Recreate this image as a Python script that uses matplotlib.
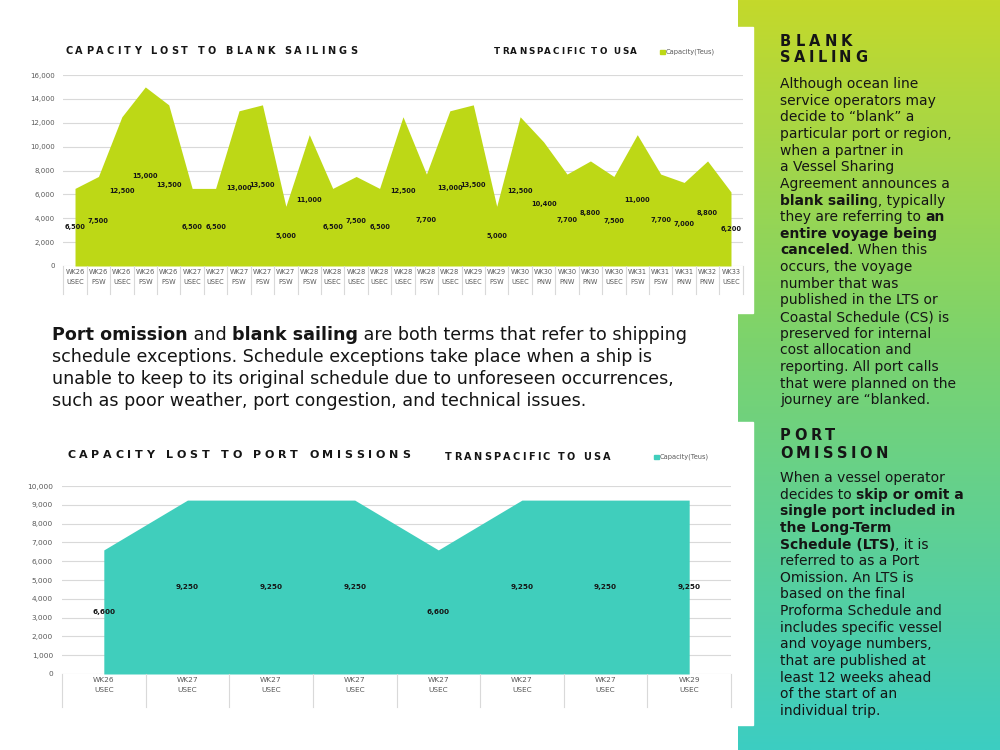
import numpy as np
import matplotlib
matplotlib.use("Agg")
import matplotlib.pyplot as plt
from matplotlib.patches import Rectangle

# ---- data: capacity lost to blank sailings (transpacific to USA)
blank_weeks = ["WK26", "WK26", "WK26", "WK26", "WK26", "WK27", "WK27", "WK27", "WK27", "WK27",
               "WK28", "WK28", "WK28", "WK28", "WK28", "WK28", "WK28", "WK29", "WK29", "WK30",
               "WK30", "WK30", "WK30", "WK30", "WK31", "WK31", "WK31", "WK32", "WK33"]
blank_regions = ["USEC", "PSW", "USEC", "PSW", "PSW", "USEC", "USEC", "PSW", "PSW", "PSW",
                 "PSW", "USEC", "USEC", "USEC", "USEC", "PSW", "USEC", "USEC", "PSW", "USEC",
                 "PNW", "PNW", "PNW", "USEC", "PSW", "PSW", "PNW", "PNW", "USEC"]
blank_teus = [6500, 7500, 12500, 15000, 13500, 6500, 6500, 13000, 13500, 5000,
              11000, 6500, 7500, 6500, 12500, 7700, 13000, 13500, 5000, 12500,
              10400, 7700, 8800, 7500, 11000, 7700, 7000, 8800, 6200]

# ---- data: capacity lost to port omissions
omit_weeks = ["WK26", "WK27", "WK27", "WK27", "WK27", "WK27", "WK27", "WK29"]
omit_regions = ["USEC", "USEC", "USEC", "USEC", "USEC", "USEC", "USEC", "USEC"]
omit_teus = [6600, 9250, 9250, 9250, 6600, 9250, 9250, 9250]

lime = "#bdd816"
teal = "#40cebc"
grey = "#595959"
ink = "#151515"

plt.rcParams['font.family'] = ['DejaVu Sans']

fig = plt.figure(figsize=(10, 7.5), dpi=100)

# background axes in pixel units (1 unit = 1 px)
bg = fig.add_axes([0, 0, 1, 1])
ramp = np.linspace(0, 1, 300)
stops = [0, 0.45, 1]
cols = np.array([[196, 217, 43], [125, 211, 108], [60, 205, 194]]) / 255
grad = np.stack([np.interp(ramp, stops, cols[:, k]) for k in range(3)], axis=1)
bg.imshow(grad[:, None, :], extent=(738, 1000, 750, 0), aspect='auto', zorder=0)
bg.add_patch(Rectangle((0, 27), 753, 286, color='white', zorder=1))
bg.add_patch(Rectangle((0, 422), 753, 303, color='white', zorder=1))
bg.set_xlim(0, 1000)
bg.set_ylim(750, 0)
bg.axis('off')

r = fig.canvas.get_renderer()


def text_w(s, **kw):
    # width in px, the '|' trick keeps spaces at the ends
    t1 = bg.text(0, 0, s + "|", **kw)
    t2 = bg.text(0, 0, "|", **kw)
    w = t1.get_window_extent(r).width - t2.get_window_extent(r).width
    t1.remove()
    t2.remove()
    return w


def spaced(x, y, s, width, **kw):
    # letter-spaced caps, spread to span `width` px
    ws = [text_w(c, **kw) for c in s]
    gap = (width - sum(ws)) / (len(s) - 1)
    for c, w in zip(s, ws):
        bg.text(x, y, c, va='center', zorder=3, **kw)
        x += w + gap


def runs(x, y, parts, **kw):
    # one line made of regular / bold pieces
    for s, wt in parts:
        bg.text(x, y, s, va='center', fontweight=wt, zorder=3, **kw)
        x += text_w(s, fontweight=wt, **kw)


def area_chart(rect, weeks, regions, vals, top, step, color,
               lab_size, tick_size, val_size, drop, lsp, pad):
    ax = fig.add_axes(rect)
    ax.patch.set_visible(False)
    x = np.arange(len(vals))
    ax.fill_between(x, vals, color=color, lw=0, zorder=2)
    ax.set_xlim(-0.5, len(vals) - 0.5)
    ax.set_ylim(0, top)
    yt = np.arange(0, top + 1, step)
    ax.set_yticks(yt)
    ax.set_yticklabels([f"{v:,}" for v in yt], fontsize=tick_size, color=grey)
    ax.grid(axis='y', color='#d9d9d9', lw=0.8, zorder=0)
    ax.set_axisbelow(True)
    ax.tick_params(axis='y', length=0, pad=pad)
    ax.tick_params(axis='x', length=0, pad=2.5)
    for s in ax.spines.values():
        s.set_visible(False)
    ax.set_xticks(x)
    ax.set_xticklabels([w + "\n" + g for w, g in zip(weeks, regions)],
                       fontsize=lab_size, color=grey, linespacing=lsp)
    for b in np.arange(len(vals) + 1) - 0.5:
        ax.plot([b, b], [0, -drop], transform=ax.get_xaxis_transform(),
                color='#d9d9d9', lw=0.8, clip_on=False)
    for xi, v in zip(x, vals):
        ax.text(xi, v / 2, f"{v:,}", ha='center', va='center', fontsize=val_size,
                fontweight='bold', color=ink, zorder=3)
    return ax


# top chart: plot area 63..743 px wide, 75..266 px tall
area_chart([0.0633, 1 - 266 / 750, 0.6794, 191 / 750], blank_weeks, blank_regions,
           blank_teus, 16000, 2000, lime, 4.8, 5, 4.8, 0.147, 1.7, 6)
# bottom chart: 62..731 px, 486..674 px
area_chart([0.062, 1 - 674 / 750, 0.669, 188 / 750], omit_weeks, omit_regions,
           omit_teus, 10000, 1000, teal, 5.3, 5.3, 5.2, 0.176, 1.75, 6.5)

# chart titles and legends
spaced(65, 51, "CAPACITY LOST TO BLANK SAILINGS", 292, fontsize=7, fontweight='bold', color=ink)
spaced(494, 52, "TRANSPACIFIC TO USA", 143, fontsize=6.3, fontweight='bold', color=ink)
bg.add_patch(Rectangle((660, 49.5), 4.5, 4.5, color=lime, zorder=3))
bg.text(666, 52, "Capacity(Teus)", fontsize=4.8, color=grey, va='center', zorder=3)

spaced(67, 455, "CAPACITY LOST TO PORT OMISSIONS", 343, fontsize=8, fontweight='bold', color=ink)
spaced(445, 457, "TRANSPACIFIC TO USA", 165, fontsize=7, fontweight='bold', color=ink)
bg.add_patch(Rectangle((654, 454.5), 4.5, 4.5, color=teal, zorder=3))
bg.text(660, 457, "Capacity(Teus)", fontsize=4.8, color=grey, va='center', zorder=3)

# middle paragraph
para = [
    [("Port omission", "bold"), (" and ", "normal"), ("blank sailing", "bold"),
     (" are both terms that refer to shipping", "normal")],
    [("schedule exceptions. Schedule exceptions take place when a ship is", "normal")],
    [("unable to keep to its original schedule due to unforeseen occurrences,", "normal")],
    [("such as poor weather, port congestion, and technical issues.", "normal")],
]
for i, line in enumerate(para):
    runs(52, 335 + i * 22, line, fontsize=12.6, color=ink)

# side panel text
blank_body = [
    [("Although ocean line", "normal")],
    [("service operators may", "normal")],
    [("decide to “blank” a", "normal")],
    [("particular port or region,", "normal")],
    [("when a partner in", "normal")],
    [("a Vessel Sharing", "normal")],
    [("Agreement announces a", "normal")],
    [("blank sailin", "bold"), ("g, typically", "normal")],
    [("they are referring to ", "normal"), ("an", "bold")],
    [("entire voyage being", "bold")],
    [("canceled", "bold"), (". When this", "normal")],
    [("occurs, the voyage", "normal")],
    [("number that was", "normal")],
    [("published in the LTS or", "normal")],
    [("Coastal Schedule (CS) is", "normal")],
    [("preserved for internal", "normal")],
    [("cost allocation and", "normal")],
    [("reporting. All port calls", "normal")],
    [("that were planned on the", "normal")],
    [("journey are “blanked.", "normal")],
]
port_body = [
    [("When a vessel operator", "normal")],
    [("decides to ", "normal"), ("skip or omit a", "bold")],
    [("single port included in", "bold")],
    [("the Long-Term", "bold")],
    [("Schedule (LTS)", "bold"), (", it is", "normal")],
    [("referred to as a Port", "normal")],
    [("Omission. An LTS is", "normal")],
    [("based on the final", "normal")],
    [("Proforma Schedule and", "normal")],
    [("includes specific vessel", "normal")],
    [("and voyage numbers,", "normal")],
    [("that are published at", "normal")],
    [("least 12 weeks ahead", "normal")],
    [("of the start of an", "normal")],
    [("individual trip.", "normal")],
]

spaced(780, 41, "BLANK", 72, fontsize=10.5, fontweight='bold', color=ink)
spaced(780, 58, "SAILING", 87, fontsize=10.5, fontweight='bold', color=ink)
for i, line in enumerate(blank_body):
    runs(780, 84 + i * 16.65, line, fontsize=10, color=ink)

spaced(780, 436, "PORT", 55, fontsize=10.5, fontweight='bold', color=ink)
spaced(780, 453, "OMISSION", 108, fontsize=10.5, fontweight='bold', color=ink)
for i, line in enumerate(port_body):
    runs(780, 478 + i * 16.64, line, fontsize=10, color=ink)

fig.savefig("out.png", dpi=100)
